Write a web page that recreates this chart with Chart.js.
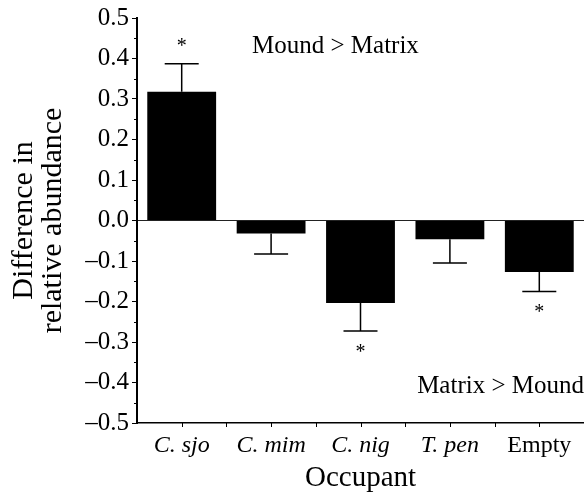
<!DOCTYPE html>
<html>
<head>
<meta charset="utf-8">
<script src="https://cdn.jsdelivr.net/npm/chart.js@4.4.0/dist/chart.umd.min.js"></script>
<style>
  html, body { margin: 0; padding: 0; background: #fff; }
  #wrap { width: 584px; height: 496px; }
</style>
</head>
<body>
<div id="wrap"><canvas id="myChart"></canvas></div>
<script>
// data
var occupants = ['C. sjo', 'C. mim', 'C. nig', 'T. pen', 'Empty'];
var meanDiff = [0.318, -0.032, -0.204, -0.046, -0.127];
var errEnd = [0.387, -0.083, -0.273, -0.105, -0.175];
var starAt = [0.437, null, -0.318, null, -0.220];
var yTicks = [-0.5, -0.4, -0.3, -0.2, -0.1, 0.0, 0.1, 0.2, 0.3, 0.4, 0.5];

var serif = '"Liberation Serif", "Times New Roman", serif';

const extras = {
    id: 'extras',
    afterDatasetsDraw(chart) {
        const ctx = chart.ctx;
        const x = chart.scales.x, y = chart.scales.y;
        const meta = chart.getDatasetMeta(0);
        const area = chart.chartArea;
        ctx.save();
        ctx.strokeStyle = '#000';
        ctx.fillStyle = '#000';
        // error bars
        ctx.lineWidth = 1.5;
        meta.data.forEach(function (bar, i) {
            var y0 = y.getPixelForValue(meanDiff[i]);
            var y1 = y.getPixelForValue(errEnd[i]);
            ctx.beginPath();
            ctx.moveTo(bar.x, y0);
            ctx.lineTo(bar.x, y1);
            ctx.moveTo(bar.x - 17, y1);
            ctx.lineTo(bar.x + 17, y1);
            ctx.stroke();
            if (starAt[i] !== null) {
                ctx.font = '20px ' + serif;
                ctx.textAlign = 'center';
                ctx.textBaseline = 'middle';
                ctx.fillText('*', bar.x, y.getPixelForValue(starAt[i]) + 3);
            }
        });
        // minor y ticks
        ctx.lineWidth = 1;
        for (var v = -0.45; v < 0.5; v += 0.1) {
            var py = Math.round(y.getPixelForValue(v)) + 0.5;
            ctx.beginPath();
            ctx.moveTo(area.left - 3, py);
            ctx.lineTo(area.left, py);
            ctx.stroke();
        }
        // x ticks at centres and boundaries
        var half = (x.getPixelForValue(1) - x.getPixelForValue(0)) / 2;
        for (var i = 0; i < occupants.length; i++) {
            var cx = x.getPixelForValue(i);
            [cx - half, cx].forEach(function (px) {
                if (px <= area.left + 1) return;
                ctx.beginPath();
                ctx.moveTo(Math.round(px) + 0.5, area.bottom);
                ctx.lineTo(Math.round(px) + 0.5, area.bottom + 4);
                ctx.stroke();
            });
        }
        // annotations
        ctx.font = '25px ' + serif;
        ctx.textBaseline = 'middle';
        ctx.textAlign = 'left';
        ctx.fillText('Mound > Matrix', area.left + 115, y.getPixelForValue(0.43));
        ctx.textAlign = 'right';
        ctx.fillText('Matrix > Mound', area.right, y.getPixelForValue(-0.41));
        ctx.restore();
    }
};

const graphData = {
    type: 'bar',
    data: {
        labels: occupants,
        datasets: [{
            label: 'Difference',
            data: meanDiff,
            backgroundColor: '#000',
            borderWidth: 0,
            categoryPercentage: 0.77,
            barPercentage: 1.0
        }]
    },
    options: {
        responsive: true,
        maintainAspectRatio: false,
        animation: false,
        layout: { padding: { top: 16, right: 0, left: 0, bottom: 0 } },
        plugins: { legend: { display: false }, tooltip: { enabled: false } },
        scales: {
            x: {
                grid: { display: false },
                border: { color: '#000', width: 1.5 },
                ticks: {
                    color: '#000',
                    padding: 0,
                    font: function (c) {
                        return { family: serif, size: 24, style: c.index === 4 ? 'normal' : 'italic' };
                    }
                },
                title: {
                    display: true,
                    text: 'Occupant',
                    color: '#000',
                    font: { family: serif, size: 29 },
                    padding: { top: 0, bottom: 0 }
                },
                afterFit: function (s) { s.height = 73; }
            },
            y: {
                min: -0.5,
                max: 0.5,
                afterBuildTicks: function (s) {
                    s.ticks = yTicks.map(function (v) { return { value: v }; });
                },
                grid: {
                    drawOnChartArea: true,
                    drawTicks: true,
                    tickLength: 5,
                    tickColor: '#000',
                    color: function (c) {
                        return c.tick && Math.abs(c.tick.value) < 1e-9 ? '#222' : 'rgba(0,0,0,0)';
                    },
                    lineWidth: 1
                },
                border: { color: '#000', width: 2 },
                ticks: {
                    color: '#000',
                    padding: 3,
                    font: { family: serif, size: 25 },
                    callback: function (v) {
                        return Number(v).toFixed(1).replace('-', '\u2013');
                    }
                },
                title: {
                    display: true,
                    text: ['Difference in', 'relative abundance'],
                    color: '#000',
                    font: { family: serif, size: 30, lineHeight: 0.95 },
                    padding: { top: 10, bottom: 4 }
                },
                afterFit: function (s) { s.width = 137; }
            }
        }
    },
    plugins: [extras]
};

const ctx = document.getElementById('myChart').getContext('2d');
const myChart = new Chart(ctx, graphData);
</script>
</body>
</html>
